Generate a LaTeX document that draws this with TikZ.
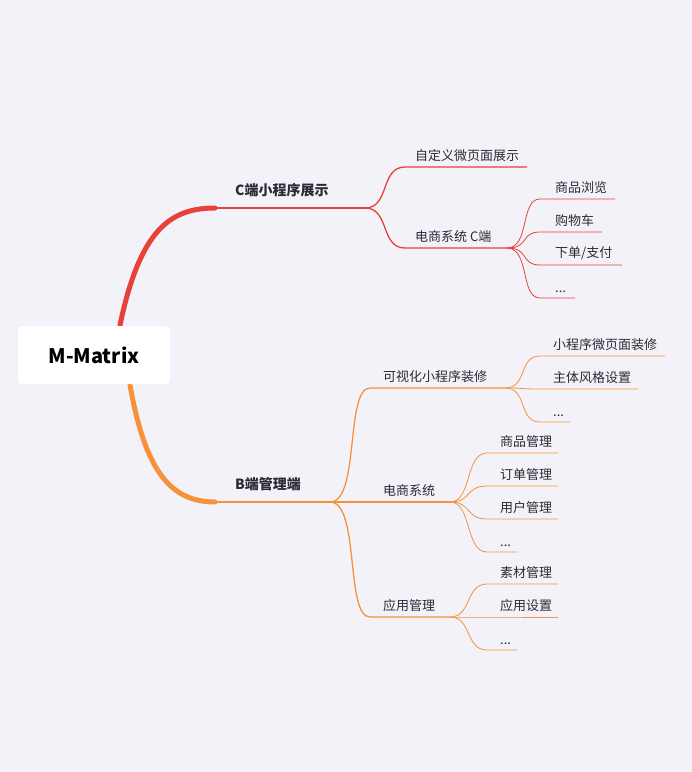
\documentclass[tikz,border=0pt]{standalone}
\usepackage{fontspec}
\setmainfont{Noto Sans CJK SC}
\usetikzlibrary{positioning}
\definecolor{bgcol}{HTML}{F3F2F8}
\definecolor{redline}{HTML}{E8413A}
\definecolor{orangeline}{HTML}{F7923A}
\definecolor{txt}{HTML}{2B2B35}
\newcommand{\etc}{...}
\tikzset{topic/.style={anchor=south west,inner xsep=10pt,inner ysep=5pt,text=txt,font=\fontsize{13}{15}\selectfont},
         leaf/.style={topic,inner xsep=15pt},
         main/.style={topic,inner xsep=20pt,inner ysep=11pt,font=\fontsize{14}{16}\selectfont\bfseries},
         root/.style={fill=white,rounded corners=4pt,minimum width=152pt,minimum height=58pt,text=black,font=\fontsize{20}{24}\selectfont\bfseries}}
\begin{document}
\begin{tikzpicture}[x=1pt,y=-1pt]
    \fill[bgcol] (0,0) rectangle (692,772);
    \useasboundingbox (0,0) rectangle (692,772);

    % C branch
    \coordinate (cstart) at (120,325);
    \coordinate (cL) at (215,208);
    \coordinate (cR) at (365,208);
    \node [main] (ctext) at (cL) {C端小程序展示};
    \draw [redline, line width=5pt, line cap=round] (cstart) .. controls (140,230) and (170,208) .. (cL);
    \draw [redline, line width=1.6pt] (cL) -- (cR);
    \coordinate (c1L) at (405,167); \coordinate (c1R) at (527,167);
    \coordinate (c2L) at (405,248); \coordinate (c2R) at (507,248);
    \node [topic] (c1) at (c1L) {自定义微页面展示};
    \node [topic] (c2) at (c2L) {电商系统 C端};
    \draw [redline, line width=1.3pt] (cR) .. controls (390,208) and (380,167) .. (c1L) -- (c1R);
    \draw [redline, line width=1.3pt] (cR) .. controls (390,208) and (380,248) .. (c2L) -- (c2R);
    \foreach \t/\w [count=\i] in {商品浏览/75,购物车/62,{下单/支付}/82,\etc/35}
        {
        \coordinate (cc\i L) at (540,166+\i*33);
        \node [leaf] (cc\i) at (cc\i L) {\t};
        \draw [redline, line width=0.8pt] (c2R) .. controls (530,248) and (520,166+\i*33) .. (cc\i L) -- +(\w,0);
        }

    % B branch
    \coordinate (bstart) at (130,385);
    \coordinate (bL) at (215,502);
    \coordinate (bR) at (330,502);
    \node [main] (btext) at (bL) {B端管理端};
    \draw [orangeline, line width=5pt, line cap=round] (bstart) .. controls (145,470) and (170,502) .. (bL);
    \draw [orangeline, line width=1.6pt] (bL) -- (bR);
    \foreach \t/\y/\w [count=\i] in {可视化小程序装修/388/135,电商系统/502/80,应用管理/617/80}
        {
        \coordinate (b\i L) at (370,\y);
        \coordinate (b\i R) at (370+\w,\y);
        \node [topic,inner xsep=13pt] (b\i) at (b\i L) {\t};
        \draw [orangeline, line width=1.3pt] (bR) .. controls (360,502) and (345,\y) .. (b\i L) -- (b\i R);
        }
    \foreach \t/\w [count=\i] in {小程序微页面装修/125,主体风格设置/98,\etc/30}
        {
        \coordinate (ba\i L) at (540,323+\i*33);
        \node [topic,inner xsep=13pt] (ba\i) at (ba\i L) {\t};
        \draw [orangeline, line width=0.8pt] (b1R) .. controls (528,388) and (518,323+\i*33) .. (ba\i L) -- +(\w,0);
        }
    \foreach \t/\w [count=\i] in {商品管理/71,订单管理/71,用户管理/71,\etc/30}
        {
        \coordinate (bb\i L) at (487,420+\i*33);
        \node [topic,inner xsep=13pt] (bb\i) at (bb\i L) {\t};
        \draw [orangeline, line width=0.8pt] (b2R) .. controls (472,502) and (465,420+\i*33) .. (bb\i L) -- +(\w,0);
        }
    \foreach \t/\w [count=\i] in {素材管理/71,应用设置/71,\etc/30}
        {
        \coordinate (bc\i L) at (487,551+\i*33);
        \node [topic,inner xsep=13pt] (bc\i) at (bc\i L) {\t};
        \draw [orangeline, line width=0.8pt] (b3R) .. controls (472,617) and (465,551+\i*33) .. (bc\i L) -- +(\w,0);
        }

    \node [root] (mroot) at (94,355) {M-Matrix};
\end{tikzpicture}
\end{document}
